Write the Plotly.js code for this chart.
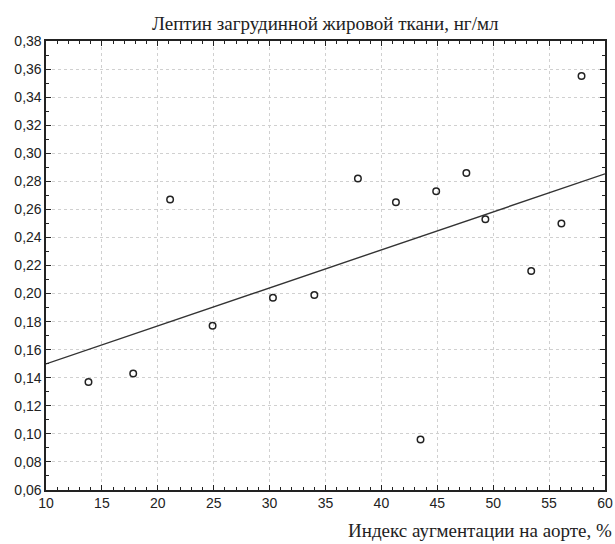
<!DOCTYPE html>
<html><head><meta charset="utf-8">
<script src="https://cdn.plot.ly/plotly-3.0.1.min.js"></script>
<style>html,body{margin:0;padding:0;background:#fff}#chart{width:615px;height:544px}</style>
</head><body><div id="chart"></div>
<script>
const augIndex = [13.8, 17.8, 21.1, 24.9, 30.3, 34.0, 37.9, 41.3, 43.5, 44.9, 47.6, 49.3, 53.4, 56.1, 57.9];
const leptin   = [0.137, 0.143, 0.267, 0.177, 0.197, 0.199, 0.282, 0.265, 0.096, 0.273, 0.286, 0.253, 0.216, 0.250, 0.355];
const xTicks = [10,15,20,25,30,35,40,45,50,55,60];
const yTicks = [0.06,0.08,0.10,0.12,0.14,0.16,0.18,0.20,0.22,0.24,0.26,0.28,0.30,0.32,0.34,0.36,0.38];
const yTickText = yTicks.map(v => v.toFixed(2).replace('.', ','));
const xRange = [10, 60], yRange = [0.06, 0.38];

// least-squares fit
const n = augIndex.length;
const mx = augIndex.reduce((a,b)=>a+b,0)/n, my = leptin.reduce((a,b)=>a+b,0)/n;
let sxy=0, sxx=0;
for (let i=0;i<n;i++){ sxy+=(augIndex[i]-mx)*(leptin[i]-my); sxx+=(augIndex[i]-mx)**2; }
const slope = sxy/sxx, icpt = my - slope*mx;
const fitX = xRange.slice(), fitY = fitX.map(x => icpt + slope*x);

const tickFont = {family: '"Liberation Sans", Arial, sans-serif', size: 14, color: '#222'};
const axisCommon = {
  showline: true, linecolor: '#222', linewidth: 1.6, mirror: 'ticks',
  ticks: 'inside', ticklen: 5, tickcolor: '#222', tickwidth: 1,
  showgrid: true, gridcolor: '#d0d0d0', griddash: 'dot', gridwidth: 1,
  zeroline: false, tickfont: tickFont, fixedrange: true
};
const data = [
  {x: fitX, y: fitY, type: 'scatter', mode: 'lines', line: {color: '#333', width: 1.4}, hoverinfo: 'skip'},
  {x: augIndex, y: leptin, type: 'scatter', mode: 'markers',
   marker: {symbol: 'circle-open', size: 6.5, color: '#222', line: {width: 1.5, color: '#222'}}}
];
const layout = {
  width: 615, height: 544, showlegend: false,
  paper_bgcolor: '#fff', plot_bgcolor: '#fff',
  margin: {l: 46, r: 10, t: 41, b: 54},
  xaxis: Object.assign({}, axisCommon, {range: xRange, tickvals: xTicks, ticktext: xTicks.map(String),
    minor: {ticks: 'inside', dtick: 1, ticklen: 3, tickcolor: '#222', showgrid: false}}),
  yaxis: Object.assign({}, axisCommon, {range: yRange, tickvals: yTicks, ticktext: yTickText,
    minor: {ticks: 'inside', dtick: 0.01, tick0: 0.06, ticklen: 3, tickcolor: '#222', showgrid: false}}),
  annotations: [
    {text: 'Лептин загрудинной жировой ткани, нг/мл', xref: 'paper', yref: 'paper', x: 0.5, y: 1, yshift: 18,
     xanchor: 'center', yanchor: 'middle', showarrow: false,
     font: {family: '"Liberation Serif", "Times New Roman", serif', size: 19, color: '#222'}},
    {text: 'Индекс аугментации на аорте, %', xref: 'paper', yref: 'paper', x: 1, y: 0, xshift: 9, yshift: -40,
     xanchor: 'right', yanchor: 'middle', showarrow: false,
     font: {family: '"Liberation Serif", "Times New Roman", serif', size: 19, color: '#222'}}
  ]
};
Plotly.newPlot('chart', data, layout, {displayModeBar: false, staticPlot: true});
</script></body></html>
